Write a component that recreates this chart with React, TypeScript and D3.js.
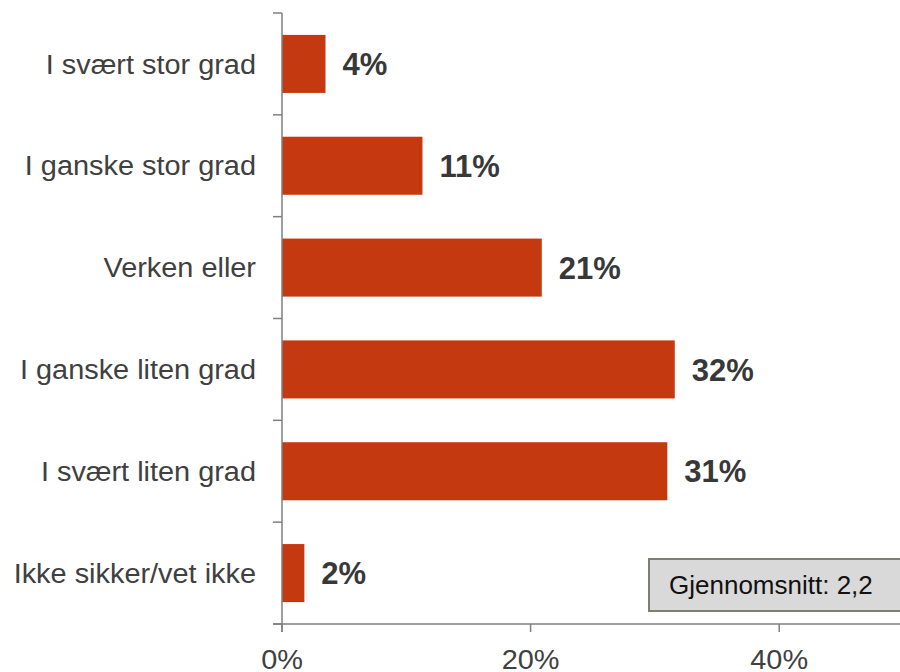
import React from "react";
import * as d3 from "d3";

const categories = [
  "I svært stor grad",
  "I ganske stor grad",
  "Verken eller",
  "I ganske liten grad",
  "I svært liten grad",
  "Ikke sikker/vet ikke",
];
const values = [3.5, 11.3, 20.9, 31.6, 31.0, 1.8];
const valueLabels = ["4%", "11%", "21%", "32%", "31%", "2%"];
const xTicks = [0, 20, 40];
const note = "Gjennomsnitt: 2,2";

const W = 900;
const H = 672;
const FONT = "'Liberation Sans', Arial, Helvetica, sans-serif";

export default function App() {
  const x = d3.scaleLinear().domain([0, 50]).range([282, 903.5]);
  const y = d3
    .scaleBand<string>()
    .domain(categories)
    .range([13, 624])
    .paddingInner(0.43)
    .paddingOuter(0.215);
  const step = y.step();
  const top = 13;
  const bottom = 624;
  const x0 = x(0);
  const boundaries = d3.range(categories.length + 1).map((i) => top + i * step);

  return (
    <svg
      width={W}
      height={H}
      style={{ position: "absolute", left: 0, top: 0, background: "#fff" }}
      fontFamily={FONT}
    >
      {/* bars */}
      {categories.map((c, i) => (
        <rect
          key={c}
          x={x0}
          y={y(c)}
          width={x(values[i]) - x0}
          height={y.bandwidth()}
          fill="#C4390F"
        />
      ))}
      {/* value labels */}
      {categories.map((c, i) => (
        <text
          key={c + "v"}
          x={x(values[i]) + 17}
          y={(y(c) as number) + y.bandwidth() / 2}
          dy="0.36em"
          fontSize={31}
          fontWeight="bold"
          fill="#383838"
        >
          {valueLabels[i]}
        </text>
      ))}
      {/* category labels */}
      {categories.map((c) => (
        <text
          key={c + "l"}
          transform={`translate(256,${(y(c) as number) + y.bandwidth() / 2}) scale(1.07,1)`}
          dy="0.36em"
          textAnchor="end"
          fontSize={27}
          fill="#404040"
        >
          {c}
        </text>
      ))}
      {/* y axis */}
      <line x1={x0} x2={x0} y1={top} y2={bottom + 8} stroke="#7f7f7f" strokeWidth={1.5} />
      {boundaries.map((b, i) => (
        <line key={"yt" + i} x1={273} x2={x0} y1={b} y2={b} stroke="#7f7f7f" strokeWidth={1.5} />
      ))}
      {/* x axis */}
      <line x1={273} x2={W} y1={bottom} y2={bottom} stroke="#7f7f7f" strokeWidth={1.5} />
      {xTicks.map((t) => (
        <g key={"xt" + t}>
          <line x1={x(t)} x2={x(t)} y1={bottom} y2={bottom + 8} stroke="#7f7f7f" strokeWidth={1.5} />
          <text
            transform={`translate(${x(t)},669) scale(1.07,1)`}
            textAnchor="middle"
            fontSize={27}
            fill="#404040"
          >
            {t + "%"}
          </text>
        </g>
      ))}
      {/* note box */}
      <rect x={649} y={559} width={262} height={52} fill="#d9d9d9" stroke="#7f7f70" strokeWidth={2} />
      <text x={669} y={585} dy="0.36em" fontSize={26} fill="#111">
        {note}
      </text>
    </svg>
  );
}
